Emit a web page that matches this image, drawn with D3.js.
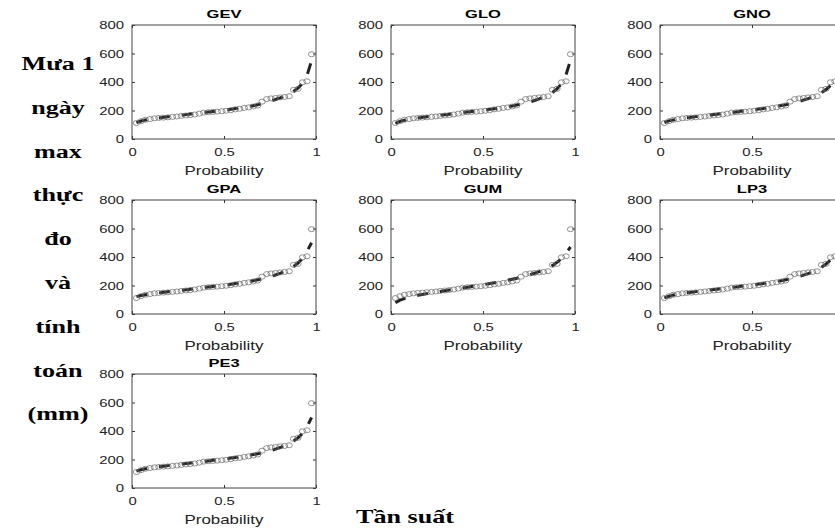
<!DOCTYPE html>
<html>
<head>
<meta charset="utf-8">
<script src="https://cdn.jsdelivr.net/npm/d3@7"></script>
<style>
  body { margin: 0; background: #fff; }
  svg { display: block; }
</style>
</head>
<body>
<svg id="chart"></svg>
<script>
// plotting positions (Weibull) of the 40 observed annual maxima
const probs = [0.024, 0.049, 0.073, 0.098, 0.122, 0.146, 0.171, 0.195, 0.220, 0.244,
  0.268, 0.293, 0.317, 0.341, 0.366, 0.390, 0.415, 0.439, 0.463, 0.488,
  0.512, 0.537, 0.561, 0.585, 0.610, 0.634, 0.659, 0.683, 0.707, 0.732,
  0.756, 0.780, 0.805, 0.829, 0.854, 0.878, 0.902, 0.927, 0.951, 0.976];

// observed 1-day max rainfall (mm), sorted
const observed = [112, 125, 135, 140, 145, 148, 150, 152, 155, 158,
  162, 165, 168, 172, 178, 185, 188, 190, 192, 195,
  198, 202, 208, 212, 218, 222, 228, 235, 262, 280,
  285, 288, 292, 295, 300, 345, 352, 398, 405, 595];

// fitted quantiles per distribution
const fitGEV = [115, 126, 133, 139, 144, 148, 152, 156, 160, 164, 167, 171, 175, 178, 182, 186, 189, 193, 197, 201,
  205, 209, 214, 218, 223, 228, 234, 240, 250, 258, 267, 277, 288, 300, 315, 333, 357, 390, 445, 550];
const fitGLO = [110, 124, 132, 138, 143, 148, 152, 156, 160, 163, 167, 171, 174, 178, 182, 185, 189, 193, 197, 200,
  204, 208, 213, 217, 222, 227, 232, 238, 245, 252, 261, 270, 281, 293, 308, 327, 352, 388, 450, 555];
const fitGNO = [116, 127, 134, 140, 145, 149, 153, 157, 161, 164, 168, 172, 175, 179, 183, 186, 190, 194, 198, 202,
  206, 210, 214, 219, 224, 229, 235, 241, 248, 255, 264, 273, 283, 295, 309, 326, 347, 375, 415, 490];
const fitGPA = [122, 130, 135, 140, 144, 148, 152, 156, 160, 163, 167, 170, 174, 178, 182, 185, 189, 193, 197, 201,
  205, 209, 214, 218, 223, 228, 234, 240, 247, 255, 264, 274, 285, 298, 314, 333, 357, 390, 440, 500];
const fitGUM = [80, 97, 108, 117, 124, 131, 137, 143, 148, 153, 158, 163, 168, 173, 178, 183, 188, 193, 198, 203,
  208, 214, 219, 225, 231, 237, 244, 251, 259, 267, 276, 286, 297, 309, 324, 341, 362, 390, 428, 470];
const fitLP3 = [113, 125, 133, 139, 144, 149, 153, 157, 161, 165, 168, 172, 176, 179, 183, 187, 190, 194, 198, 202,
  206, 210, 214, 219, 224, 229, 234, 240, 247, 255, 263, 273, 283, 295, 310, 328, 350, 380, 425, 510];
const fitPE3 = [118, 128, 135, 140, 145, 149, 153, 157, 161, 164, 168, 172, 175, 179, 183, 186, 190, 194, 198, 202,
  206, 210, 214, 219, 224, 229, 235, 241, 248, 255, 264, 273, 284, 296, 311, 329, 352, 383, 430, 495];

const panelNames = ["GEV", "GLO", "GNO", "GPA", "GUM", "LP3", "PE3"];
const panelFits = [fitGEV, fitGLO, fitGNO, fitGPA, fitGUM, fitLP3, fitPE3];
const xTicks = [0, 0.5, 1];
const yTicks = [0, 200, 400, 600, 800];
const sideLabel = ["Mưa 1", "ngày", "max", "thực", "đo", "và", "tính", "toán", "(mm)"];
const xTitle = "Tần suất";

const width = 835, height = 529;
const colLeft = [132, 391, 660];
const rowTop = [25, 200, 374];
const pw = 184, ph = 114;

const svg = d3.select("#chart").attr("width", width).attr("height", height);

// the source picture is stretched sideways, so widen the text the same way
function stretch(sel, k) {
  sel.each(function () {
    const w = this.getComputedTextLength();
    d3.select(this).attr("textLength", w * k).attr("lengthAdjust", "spacingAndGlyphs");
  });
}

const x = d3.scaleLinear().domain([0, 1]).range([0, pw]);
const y = d3.scaleLinear().domain([0, 800]).range([ph, 0]);

const line = d3.line()
  .x((d, i) => x(probs[i]))
  .y(d => y(d));

panelNames.forEach((name, k) => {
  const left = colLeft[k % 3];
  const g = svg.append("g")
    .attr("transform", `translate(${left},${rowTop[Math.floor(k / 3)]})`);

  // axes with inward ticks
  const xAxisG = g.append("g")
    .attr("transform", `translate(0,${ph})`)
    .call(d3.axisBottom(x).tickValues(xTicks).tickFormat(d3.format("")).tickSize(-3).tickSizeOuter(0).tickPadding(9));
  const yAxisG = g.append("g")
    .call(d3.axisLeft(y).tickValues(yTicks).tickSize(-3).tickSizeOuter(0).tickPadding(8));
  g.append("g")
    .call(d3.axisTop(x).tickValues(xTicks).tickFormat("").tickSize(-3).tickSizeOuter(0));
  g.append("g")
    .attr("transform", `translate(${pw},0)`)
    .call(d3.axisRight(y).tickValues(yTicks).tickFormat("").tickSize(-3).tickSizeOuter(0));

  g.selectAll(".domain").remove();
  g.selectAll(".tick line").attr("stroke", "#333");
  // labels that fall past the page edge are cut off in the source
  xAxisG.selectAll(".tick")
    .filter(d => left + x(d) > width - 4)
    .select("text").remove();
  [xAxisG, yAxisG].forEach(a => {
    a.selectAll("text")
      .attr("font-family", "Liberation Sans, Arial, sans-serif")
      .attr("font-size", 11)
      .attr("fill", "#222");
    stretch(a.selectAll("text"), 1.35);
  });

  g.append("rect")
    .attr("width", pw)
    .attr("height", ph)
    .attr("fill", "none")
    .attr("stroke", "#444")
    .attr("stroke-width", 1);

  // fitted curve
  g.append("path")
    .datum(panelFits[k])
    .attr("d", line)
    .attr("fill", "none")
    .attr("stroke", "#222")
    .attr("stroke-width", 3)
    .attr("stroke-dasharray", "11,12");

  // observed values
  g.selectAll(".obs")
    .data(observed)
    .enter()
    .append("ellipse")
    .attr("class", "obs")
    .attr("cx", (d, i) => x(probs[i]))
    .attr("cy", d => y(d))
    .attr("rx", 3.2)
    .attr("ry", 2.5)
    .attr("fill", "none")
    .attr("stroke", "#666")
    .attr("stroke-width", 0.7);

  const title = g.append("text")
    .attr("x", pw / 2)
    .attr("y", -7)
    .attr("text-anchor", "middle")
    .attr("font-family", "Liberation Sans, Arial, sans-serif")
    .attr("font-weight", "bold")
    .attr("font-size", 11)
    .text(name);
  stretch(title, 1.5);

  const xl = g.append("text")
    .attr("x", pw / 2)
    .attr("y", ph + 36)
    .attr("text-anchor", "middle")
    .attr("font-family", "Liberation Sans, Arial, sans-serif")
    .attr("font-size", 13)
    .attr("fill", "#222")
    .text("Probability");
  stretch(xl, 1.3);
});

// left side label, one word per line
const side = svg.append("g")
  .selectAll("text")
  .data(sideLabel)
  .enter()
  .append("text")
  .attr("x", 58)
  .attr("y", (d, i) => 70 + i * 43.8)
  .attr("text-anchor", "middle")
  .attr("font-family", "Liberation Serif, Times New Roman, serif")
  .attr("font-weight", "bold")
  .attr("font-size", 18)
  .text(d => d);
stretch(side, 1.45);

const bottom = svg.append("text")
  .attr("x", 405)
  .attr("y", 523)
  .attr("text-anchor", "middle")
  .attr("font-family", "Liberation Serif, Times New Roman, serif")
  .attr("font-weight", "bold")
  .attr("font-size", 18)
  .text(xTitle);
stretch(bottom, 1.45);
</script>
</body>
</html>
